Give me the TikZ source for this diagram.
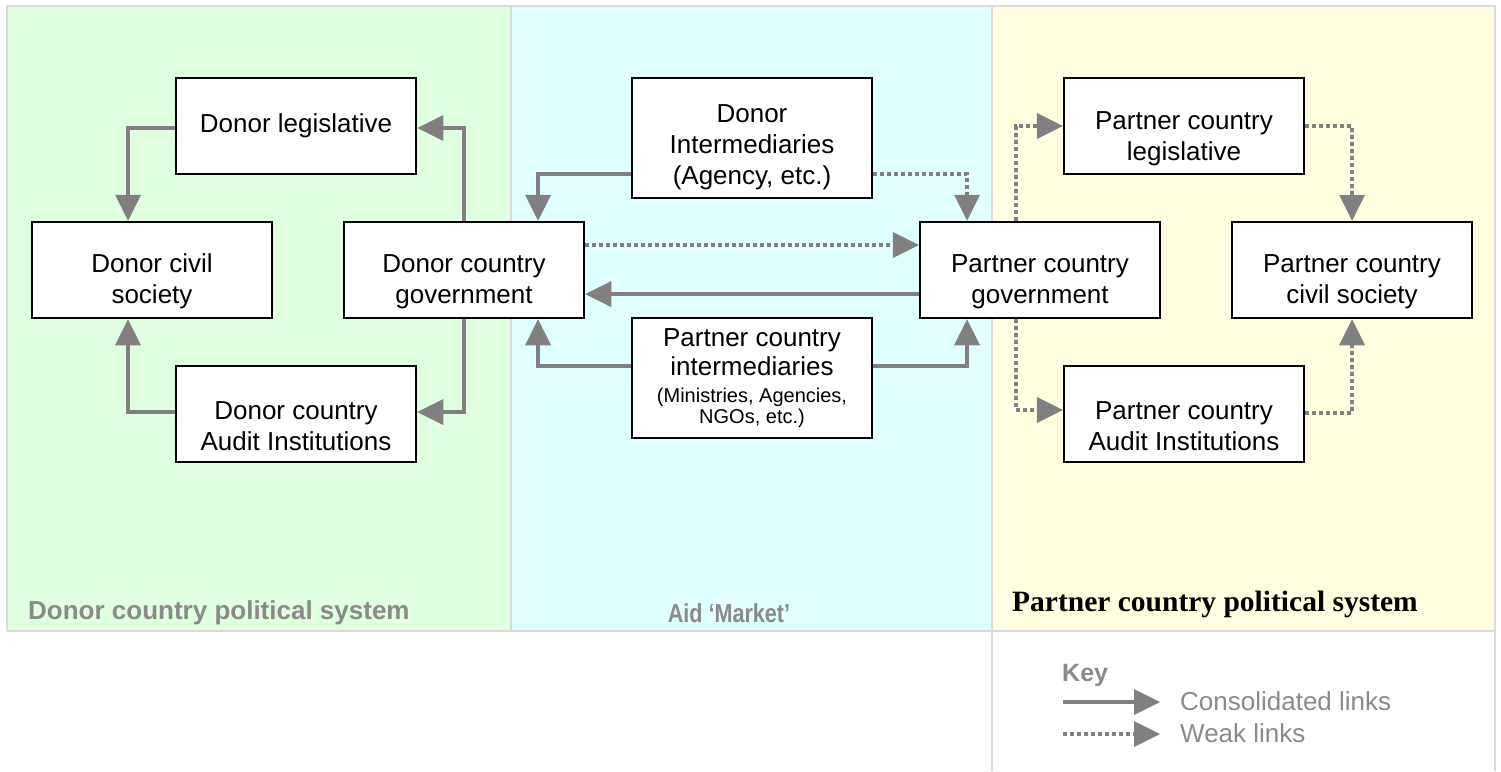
\documentclass[tikz,border=0pt]{standalone}
\usepackage{fontspec}
\setmainfont{Liberation Sans}
\newfontfamily\serifbold{Liberation Serif}
\usetikzlibrary{arrows.meta,calc}
\definecolor{pgreen}{HTML}{E0FFE0}
\definecolor{pcyan}{HTML}{E0FFFF}
\definecolor{pyellow}{HTML}{FFFFE0}
\definecolor{pborder}{HTML}{DADADA}
\definecolor{linkgray}{HTML}{808080}
\definecolor{labelgray}{HTML}{8A8A8A}
\newcommand\lowerfirst[1]{\rule{0pt}{#1}}
\begin{document}
\begin{tikzpicture}[x=1pt,y=-1pt,
  box/.style={draw=black,line width=2.5pt,fill=white,minimum width=240pt,
    inner sep=0pt,align=center,font=\fontsize{26}{31}\selectfont},
  link/.style={draw=linkgray,line width=4pt,
    -{Triangle[length=26pt,width=26pt,line width=0pt]}},
  weak/.style={link,dash pattern=on 4pt off 3pt},
  panellabel/.style={font=\fontsize{26}{31}\selectfont\bfseries,text=labelgray,inner sep=0pt},
  keytext/.style={font=\fontsize{26}{31}\selectfont,text=labelgray,inner sep=0pt,anchor=west}]
\useasboundingbox (0,0) rectangle (1501,771);
\fill[white] (0,0) rectangle (1501,771);
% panels
\fill[pgreen] (7,6) rectangle (511,631);
\fill[pcyan] (511,6) rectangle (992,631);
\fill[pyellow] (992,6) rectangle (1495,631);
\draw[pborder,line width=2.5pt] (7,631) -- (7,6) -- (1495,6) -- (1495,771);
\draw[pborder,line width=2pt] (511,6) -- (511,631);
\draw[pborder,line width=2pt] (992,6) -- (992,771);
\draw[pborder,line width=2.5pt] (7,631) -- (1495,631);
% nodes
\node[box,minimum height=96pt] (DL) at (296,126) {\raisebox{5pt}{Donor legislative}};
\node[box,minimum height=96pt] (DCS) at (152,270) {\lowerfirst{42pt}Donor civil\\society};
\node[box,minimum height=96pt] (DG) at (464,270) {\lowerfirst{42pt}Donor country\\government};
\node[box,minimum height=96pt] (DCA) at (296,414) {\lowerfirst{42pt}Donor country\\Audit Institutions};
\node[box,minimum height=120pt] (DI) at (752,138) {\lowerfirst{37pt}Donor\\Intermediaries\\(Agency, etc.)};
\node[box,minimum height=120pt] (PCI) at (752,378) {Partner country\\[-2pt]intermediaries\\[-4pt]{\fontsize{20}{21}\selectfont (Ministries, Agencies,}\\[-10pt]{\fontsize{20}{21}\selectfont NGOs, etc.)}};
\node[box,minimum height=96pt] (PG) at (1040,270) {\lowerfirst{42pt}Partner country\\government};
\node[box,minimum height=96pt] (PCL) at (1184,126) {\lowerfirst{43pt}Partner country\\legislative};
\node[box,minimum height=96pt] (PCCS) at (1352,270) {\lowerfirst{42pt}Partner country\\civil society};
\node[box,minimum height=96pt] (PCA) at (1184,414) {\lowerfirst{42pt}Partner country\\Audit Institutions};
% donor side links
\draw[link] ([yshift=-2pt]DL.west) -| ([xshift=-24pt]DCS.north);
\draw[link] ([yshift=2pt]DCA.west) -| ([xshift=-24pt]DCS.south);
\draw[link] (DG.north) |- ([yshift=-2pt]DL.east);
\draw[link] (DG.south) |- ([yshift=2pt]DCA.east);
% aid market links
\draw[link] ([yshift=-36pt]DI.west) -| ([xshift=74pt]DG.north);
\draw[weak] ([yshift=-36pt]DI.east) -| ([xshift=-73pt]PG.north);
\draw[weak] ([yshift=25pt]DG.east) -- ([yshift=25pt]PG.west);
\draw[link] ([yshift=-24pt]PG.west) -- ([yshift=-24pt]DG.east);
\draw[link] ([yshift=12pt]PCI.west) -| ([xshift=74pt]DG.south);
\draw[link] ([yshift=12pt]PCI.east) -| ([xshift=-73pt]PG.south);
% partner side links
\draw[weak] ([xshift=-24pt]PG.north) |- (PCL.west);
\draw[weak] (PCL.east) -| (PCCS.north);
\draw[weak] ([xshift=-24pt]PG.south) |- ([yshift=4pt]PCA.west);
\draw[weak] ([yshift=1pt]PCA.east) -| (PCCS.south);
% panel labels
\node[panellabel,anchor=west] (LD) at (28,613) {Donor country political system};
\node[panellabel] (LA) at (729,613) {\scalebox{0.83}[1]{Aid ‘Market’}};
\node[font=\fontsize{29.5}{32}\serifbold\bfseries,text=black,inner sep=0pt,anchor=west] (LP) at (1012,604) {Partner country political system};
% key
\node[font=\fontsize{25}{30}\selectfont\bfseries,text=labelgray,inner sep=0pt,anchor=west] (KEY) at (1062,675) {Key};
\coordinate (KS1) at (1063,702);
\coordinate (KS2) at (1160,702);
\coordinate (KW1) at (1063,734);
\coordinate (KW2) at (1160,734);
\draw[link] (KS1) -- (KS2);
\draw[weak] (KW1) -- (KW2);
\node[keytext] (KC) at (1180,701) {Consolidated links};
\node[keytext] (KWT) at (1180,733) {Weak links};
\end{tikzpicture}
\end{document}
